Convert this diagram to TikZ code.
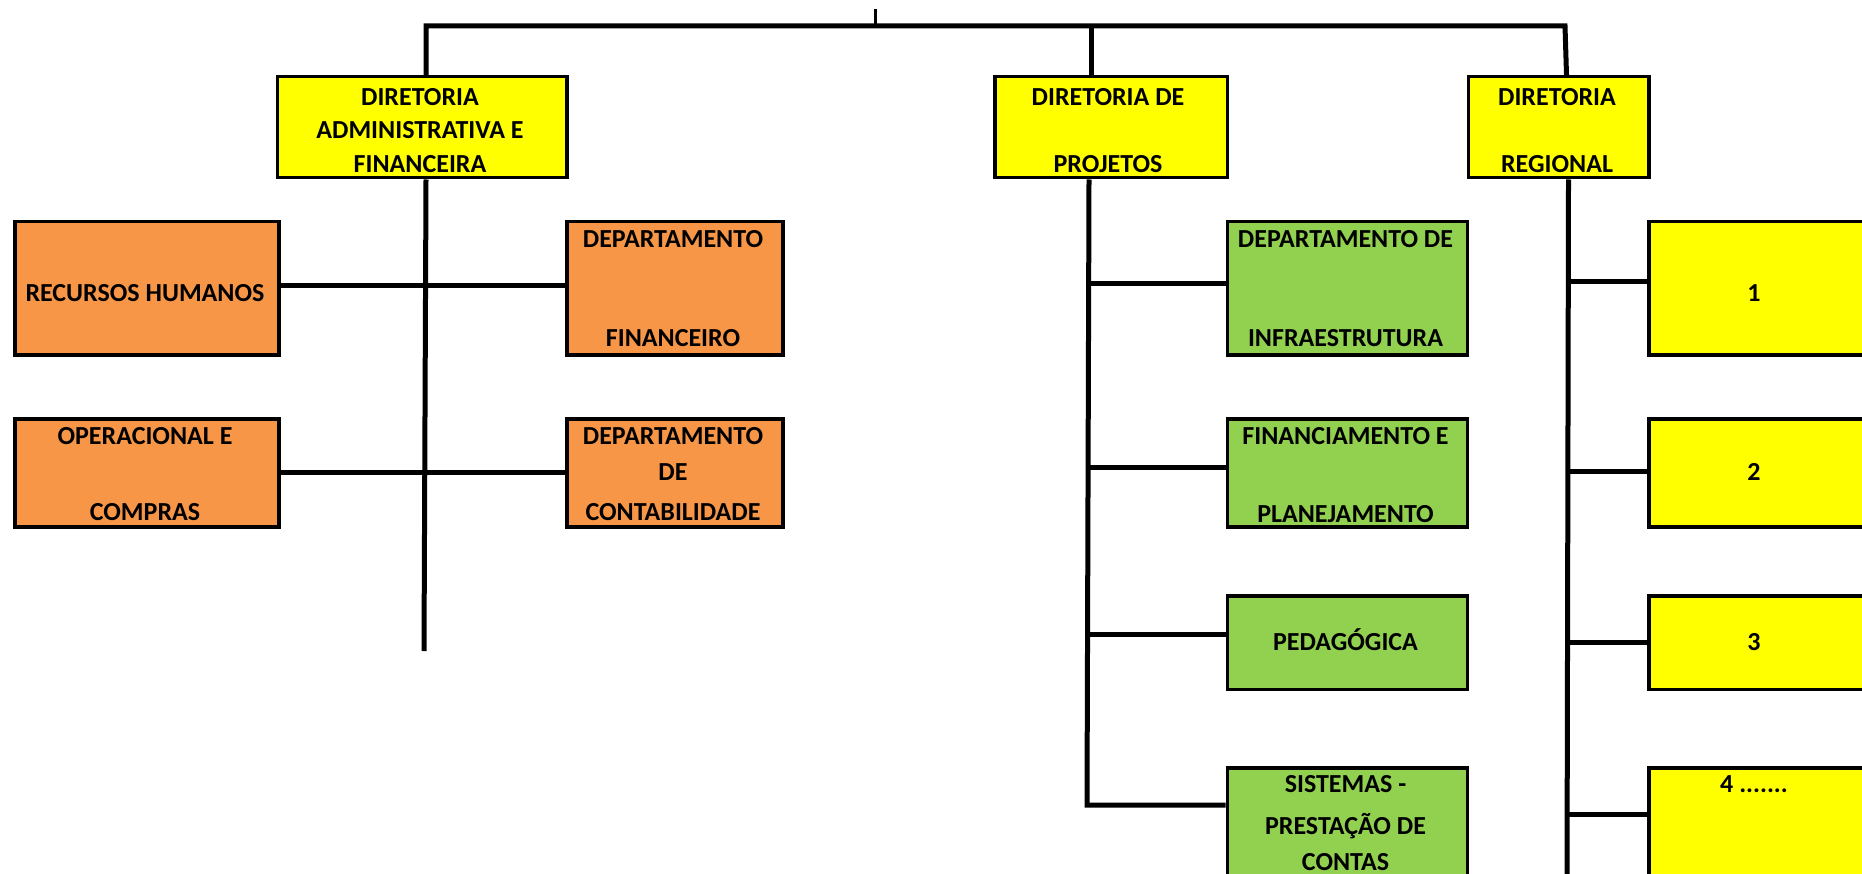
\documentclass[tikz,border=0pt]{standalone}
\usepackage{fontspec}
\setmainfont{Carlito}
\definecolor{yel}{HTML}{FFFF00}
\definecolor{ora}{HTML}{F79646}
\definecolor{grn}{HTML}{92D050}
\begin{document}
\begin{tikzpicture}[x=1pt,y=-1pt,
  box/.style={draw=black, line width=3.5pt, rectangle, inner sep=0pt, anchor=north west},
  lbl/.style={font=\fontsize{26}{31}\selectfont\bfseries, text height=16.7pt, text depth=0pt, inner sep=0pt, anchor=center},
  conn/.style={line width=5pt, draw=black}]
\useasboundingbox (0,0) rectangle (1862,874);
\clip (0,0) rectangle (1862,874);
\fill[white] (0,0) rectangle (1862,874);
% boxes
\node[box, fill=yel, minimum width=289.5pt, minimum height=101pt] (daf) at (275.5,75) {};
\node[box, fill=ora, minimum width=264pt, minimum height=133pt] (rh) at (13,220) {};
\node[box, fill=ora, minimum width=216pt, minimum height=133pt] (df) at (565,220) {};
\node[box, fill=ora, minimum width=264pt, minimum height=108pt] (oc) at (13,417) {};
\node[box, fill=ora, minimum width=216pt, minimum height=108pt] (dc) at (565,417) {};
\node[box, fill=yel, minimum width=232.5pt, minimum height=101pt] (dp) at (993,75) {};
\node[box, fill=grn, minimum width=240pt, minimum height=133pt] (di) at (1225.5,220) {};
\node[box, fill=grn, minimum width=240pt, minimum height=108pt] (fp) at (1225.5,417) {};
\node[box, fill=grn, minimum width=240pt, minimum height=93.5pt] (ped) at (1225.5,594) {};
\node[box, fill=grn, minimum width=240pt, minimum height=130pt] (sp) at (1225.5,766) {};
\node[box, fill=yel, minimum width=180.5pt, minimum height=101pt] (dr) at (1466.5,75) {};
\node[box, fill=yel, minimum width=240pt, minimum height=133pt] (r1) at (1647,220) {};
\node[box, fill=yel, minimum width=240pt, minimum height=108pt] (r2) at (1647,417) {};
\node[box, fill=yel, minimum width=240pt, minimum height=93.5pt] (r3) at (1647,594) {};
\node[box, fill=yel, minimum width=240pt, minimum height=130pt] (r4) at (1647,766) {};
% top bus
\coordinate (busR) at (1565,26);
\coordinate (tick) at (875,9);
\draw[conn] ([xshift=4pt]daf.north) |- (busR) -- ([xshift=8pt]dr.north);
\draw[conn] ([xshift=-20pt]dp.north) -- ([xshift=-20pt]dp.north |- busR);
\draw[conn, line width=3pt] (tick) -- (tick |- busR);
% left branch
\coordinate (spL) at (424,651);
\draw[conn] ([xshift=4pt]daf.south) -- (spL);
\draw[conn] ([yshift=3pt]rh.east) -- ([yshift=3pt]df.west);
\draw[conn] (oc.east) -- (dc.west);
% projects branch
\coordinate (spP) at (1087,805);
\draw[conn] ([xshift=-22pt]dp.south) -- (spP) -- (spP -| sp.west);
\draw[conn] ([yshift=5pt]di.west) -- ([yshift=5pt]di.west -| spP);
\draw[conn] ([yshift=5.5pt]fp.west) -- ([yshift=5.5pt]fp.west -| spP);
\draw[conn] ([yshift=8pt]ped.west) -- ([yshift=8pt]ped.west -| spP);
% regional branch
\coordinate (spR) at (1567,885);
\draw[conn] ([xshift=10pt]dr.south) -- (spR);
\draw[conn] ([yshift=6.5pt]r1.west) -- ([yshift=6.5pt]r1.west -| spR);
\draw[conn] ([yshift=1pt]r2.west) -- ([yshift=1pt]r2.west -| spR);
\draw[conn] (r3.west) -- (r3.west -| spR);
\draw[conn] ([yshift=18pt]r4.west) -- ([yshift=18pt]r4.west -| spR);
% texts
\node[lbl] (t1) at (420,97.4) {DIRETORIA};
\node[lbl] (t2) at (420,130.6) {ADMINISTRATIVA E};
\node[lbl] (t3) at (420,164) {FINANCEIRA};
\node[lbl] (t4) at (145,293) {RECURSOS HUMANOS};
\node[lbl] (t5) at (673,238.7) {DEPARTAMENTO};
\node[lbl] (t6) at (673,338.4) {FINANCEIRO};
\node[lbl] (t7) at (145,435.8) {OPERACIONAL E};
\node[lbl] (t8) at (145,511.8) {COMPRAS};
\node[lbl] (t9) at (673,435.8) {DEPARTAMENTO};
\node[lbl] (t10) at (673,472.6) {DE};
\node[lbl] (t11) at (673,511.8) {CONTABILIDADE};
\node[lbl] (t12) at (1108,97.4) {DIRETORIA DE};
\node[lbl] (t13) at (1108,164) {PROJETOS};
\node[lbl] (t14) at (1345.5,238.7) {DEPARTAMENTO DE};
\node[lbl] (t15) at (1345.5,338.4) {INFRAESTRUTURA};
\node[lbl] (t16) at (1345.5,435.8) {FINANCIAMENTO E};
\node[lbl] (t17) at (1345.5,514) {PLANEJAMENTO};
\node[lbl] (t18) at (1345.5,642.4) {PEDAGÓGICA};
\node[lbl] (t19) at (1345.5,783.8) {SISTEMAS -};
\node[lbl] (t20) at (1345.5,826) {PRESTAÇÃO DE};
\node[lbl] (t21) at (1345.5,862) {CONTAS};
\node[lbl] (t22) at (1557,97.4) {DIRETORIA};
\node[lbl] (t23) at (1557,164) {REGIONAL};
\node[lbl] (t24) at (1754,293) {1};
\node[lbl] (t25) at (1754,472.6) {2};
\node[lbl] (t26) at (1754,642.4) {3};
\node[lbl] (t27) at (1754,783.8) {4 .......};
\end{tikzpicture}
\end{document}
